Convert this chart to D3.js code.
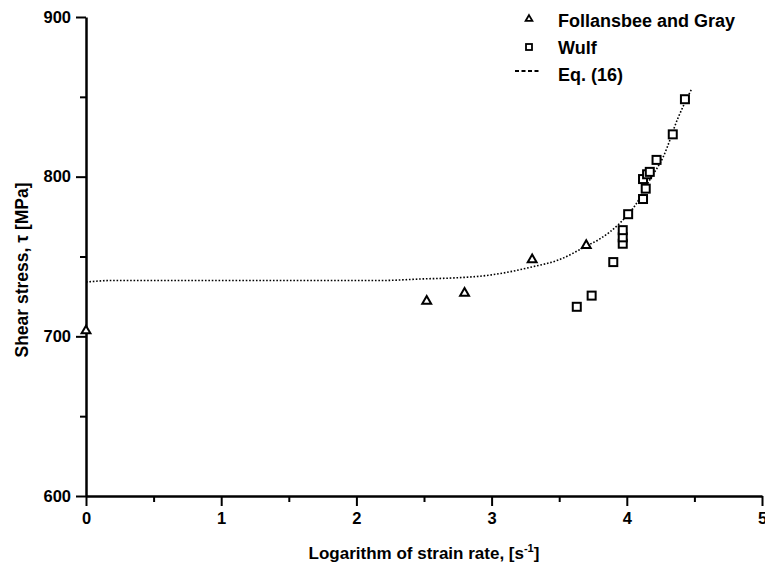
<!DOCTYPE html>
<html>
<head>
<meta charset="utf-8">
<script src="https://cdn.jsdelivr.net/npm/d3@7"></script>
<style>
  body { margin: 0; background: #fff; }
  text { font-family: "Liberation Sans", Arial, sans-serif; fill: #000; }
</style>
</head>
<body>
<div class="chart"></div>
<script>
// Follansbee and Gray (triangles)
var fgRate   = [0.0, 2.52, 2.80, 3.30, 3.70];
var fgStress = [703.5, 722, 727, 748, 757];

// Wulf (squares)
var wulfRate   = [3.63, 3.74, 3.90, 3.97, 3.97, 3.97, 4.01, 4.12, 4.14, 4.12, 4.15, 4.17, 4.22, 4.34, 4.43];
var wulfStress = [718.5, 725.5, 746.5, 758, 762, 766.5, 776.5, 786, 792.5, 798.5, 801.5, 803, 810.5, 826.5, 848.5];

// Eq. (16) curve
var eqRate   = [0, 0.2, 0.5, 1, 1.5, 2, 2.2, 2.5, 2.7, 3.0, 3.3, 3.5, 3.7, 3.8, 3.95, 4.07, 4.17, 4.27, 4.38, 4.48];
var eqStress = [734, 735, 735, 735, 735, 735, 735, 736, 736.5, 738.5, 743.5, 748, 756.5, 761, 771, 783, 798, 812.5, 837, 855];

var xTicks = [0, 1, 2, 3, 4, 5];
var yTicks = [600, 700, 800, 900];
var legendNames = ["Follansbee and Gray", "Wulf", "Eq. (16)"];

// set the dimensions and margins of the graph
var margin = {top: 17, right: 3, bottom: 72, left: 86},
    width = 765 - margin.left - margin.right,
    height = 568 - margin.top - margin.bottom;

// set the ranges
var x = d3.scaleLinear().domain([0, 5]).range([0, width]);
var y = d3.scaleLinear().domain([600, 900]).range([height, 0]);

var svg = d3.select(".chart").append("svg")
    .attr("width", 765)
    .attr("height", 568)
  .append("g")
    .attr("transform", "translate(" + margin.left + "," + margin.top + ")");

// minor ticks
svg.append("g")
    .attr("transform", "translate(0," + height + ")")
    .call(d3.axisBottom(x).tickValues(d3.range(0.5, 5, 1)).tickSize(6).tickFormat(""))
    .call(function(g) { g.select(".domain").remove(); })
    .selectAll("line").attr("stroke-width", 2);

svg.append("g")
    .call(d3.axisLeft(y).tickValues(d3.range(650, 900, 100)).tickSize(6).tickFormat(""))
    .call(function(g) { g.select(".domain").remove(); })
    .selectAll("line").attr("stroke-width", 2);

// Add the X Axis
var xAxis = svg.append("g")
    .attr("transform", "translate(0," + height + ")")
    .call(d3.axisBottom(x).tickValues(xTicks).tickSize(10).tickSizeOuter(0).tickPadding(6).tickFormat(d3.format("d")));

// Add the Y Axis
var yAxis = svg.append("g")
    .call(d3.axisLeft(y).tickValues(yTicks).tickSize(10).tickSizeOuter(0).tickPadding(5).tickFormat(d3.format("d")));

[xAxis, yAxis].forEach(function(g) {
  g.select(".domain").attr("stroke-width", 2.5);
  g.selectAll(".tick line").attr("stroke-width", 2);
  g.selectAll(".tick text")
      .style("font-size", "16.5px")
      .style("font-weight", "bold")
      .style("font-family", "'Liberation Sans', Arial, sans-serif");
});

// Eq. (16) dotted curve
var eqData = eqRate.map(function(d, i) { return {rate: d, stress: eqStress[i]}; });
var eqLine = d3.line()
    .curve(d3.curveMonotoneX)
    .x(function(d) { return x(d.rate); })
    .y(function(d) { return y(d.stress); });

svg.append("path")
    .datum(eqData)
    .attr("d", eqLine)
    .style("fill", "none")
    .style("stroke", "#000")
    .style("stroke-width", 1.6)
    .style("stroke-dasharray", "1.6,1.8");

// triangles
var tri = d3.symbol().type(d3.symbolTriangle).size(34);
svg.selectAll(".fg")
    .data(fgRate)
    .enter().append("path")
    .attr("class", "fg")
    .attr("d", tri)
    .attr("transform", function(d, i) { return "translate(" + x(d) + "," + y(fgStress[i]) + ")"; })
    .style("fill", "#fff")
    .style("stroke", "#000")
    .style("stroke-width", 2);

// squares
svg.selectAll(".wulf")
    .data(wulfRate)
    .enter().append("rect")
    .attr("class", "wulf")
    .attr("x", function(d) { return x(d) - 4; })
    .attr("y", function(d, i) { return y(wulfStress[i]) - 4; })
    .attr("width", 8)
    .attr("height", 8)
    .style("fill", "#fff")
    .style("stroke", "#000")
    .style("stroke-width", 2);

// legend
var legend = svg.append("g").attr("transform", "translate(" + (529 - margin.left) + "," + (19 - margin.top) + ")");

legend.append("path")
    .attr("d", d3.symbol().type(d3.symbolTriangle).size(20))
    .style("fill", "#fff").style("stroke", "#000").style("stroke-width", 1.8);
legend.append("rect")
    .attr("x", -3).attr("y", 25).attr("width", 6).attr("height", 6)
    .style("fill", "#fff").style("stroke", "#000").style("stroke-width", 1.8);
legend.append("line")
    .attr("x1", -14).attr("x2", 11).attr("y1", 52).attr("y2", 52)
    .style("stroke", "#000").style("stroke-width", 1.8).style("stroke-dasharray", "4,2.5");

legend.selectAll(".lt")
    .data(legendNames)
    .enter().append("text")
    .attr("x", 29)
    .attr("y", function(d, i) { return 8 + i * 27; })
    .style("font-size", "18px")
    .style("font-weight", "bold")
    .text(function(d) { return d; });

// axis titles
var xt = svg.append("text")
    .attr("x", width / 2)
    .attr("y", height + 63)
    .attr("text-anchor", "middle")
    .style("font-size", "17px")
    .style("font-weight", "bold")
    .text("Logarithm of strain rate, [s");
xt.append("tspan").attr("dy", -7).style("font-size", "11px").text("-1");
xt.append("tspan").attr("dy", 7).text("]");

svg.append("text")
    .attr("transform", "translate(" + (-58) + "," + (253) + ") rotate(-90)")
    .attr("text-anchor", "middle")
    .style("font-size", "17.5px")
    .style("font-weight", "bold")
    .text("Shear stress, \u03c4 [MPa]");
</script>
</body>
</html>
